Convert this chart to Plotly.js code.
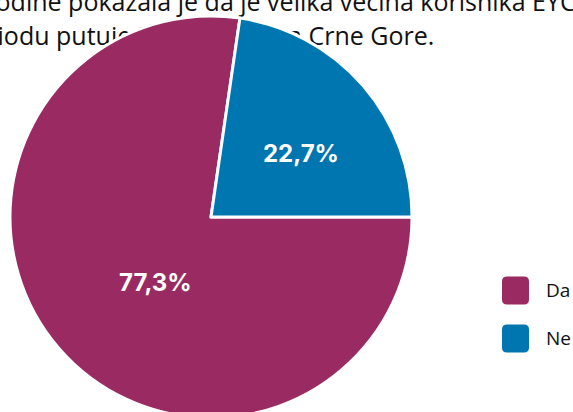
<!DOCTYPE html>
<html>
<head>
<meta charset="utf-8">
<script src="https://cdn.plot.ly/plotly-3.0.1.min.js"></script>
<style>
  html, body { margin: 0; padding: 0; overflow: hidden; background: #ffffff; }
  #chart { width: 573px; height: 420px; }
</style>
</head>
<body>
<div id="chart"></div>
<script>
// ---- data ----
const categories = ['Da', 'Ne'];
const shares = [77.3, 22.7];
const sliceColors = ['#9a2b62', '#0076b0'];
const titleLines = [
  'godine pokazala je da je velika većina korisnika EYCA kartice',
  'periodu putuje i izvan granica Crne Gore.'
];

// ---- layout helpers ----
const W = 573, H = 420, ML = 10, MT = 16, PW = 402, PH = 402;
const px2x = p => (p - ML) / PW;
const px2y = p => 1 - (p - MT) / PH;

const pie = {
  type: 'pie',
  labels: categories,
  values: shares,
  sort: false,
  direction: 'clockwise',
  rotation: 90,
  marker: { colors: sliceColors, line: { color: '#ffffff', width: 3 } },
  textinfo: 'none',
  hoverinfo: 'none',
  showlegend: false,
  domain: { x: [0, 1], y: [0, 1] }
};

const shapes = [];
const annotations = [];

// title lines, drawn below the pie
const titleStarts = [-18, -42];
const titleBase = [20, 54];
titleLines.forEach((t, i) => {
  shapes.push({
    type: 'line', layer: 'below', xref: 'paper', yref: 'paper',
    x0: px2x(titleStarts[i]), x1: px2x(titleStarts[i] + 50),
    y0: px2y(titleBase[i]), y1: px2y(titleBase[i]),
    line: { width: 0 },
    label: {
      text: t, textposition: 'start', textangle: 0,
      xanchor: 'left', yanchor: 'bottom', padding: 0,
      font: { family: 'Open Sans, Noto Sans, sans-serif', size: 25, color: '#111111' }
    }
  });
});

// value labels inside slices
const valueLabelPx = [[155, 282], [301, 153]];
shares.forEach((v, i) => {
  annotations.push({
    xref: 'paper', yref: 'paper',
    x: px2x(valueLabelPx[i][0]), y: px2y(valueLabelPx[i][1]),
    xanchor: 'center', yanchor: 'middle', showarrow: false,
    text: v.toFixed(1).replace('.', ',') + '%',
    font: { family: 'Inter, Lato, sans-serif', size: 24, color: '#ffffff', weight: 700 }
  });
});

// custom legend with rounded markers
const rr = 'M -8.5,-14 L 8.5,-14 Q 13.5,-14 13.5,-9 L 13.5,9 Q 13.5,14 8.5,14 L -8.5,14 Q -13.5,14 -13.5,9 L -13.5,-9 Q -13.5,-14 -8.5,-14 Z';
categories.forEach((c, i) => {
  const cy = 290.5 + i * 48;
  shapes.push({
    type: 'path', xref: 'paper', yref: 'paper',
    xsizemode: 'pixel', ysizemode: 'pixel',
    xanchor: px2x(515.5), yanchor: px2y(cy),
    path: rr, fillcolor: sliceColors[i], line: { width: 0 }
  });
  annotations.push({
    xref: 'paper', yref: 'paper', x: px2x(544), y: px2y(cy - 1),
    xanchor: 'left', yanchor: 'middle', showarrow: false,
    text: c, font: { family: 'Open Sans, Noto Sans, sans-serif', size: 19, color: '#111111' }
  });
});

const layout = {
  width: W, height: H,
  margin: { l: ML, r: W - ML - PW, t: MT, b: H - MT - PH, pad: 0 },
  paper_bgcolor: '#ffffff',
  plot_bgcolor: '#ffffff',
  separators: ',.',
  showlegend: false,
  shapes: shapes,
  annotations: annotations
};

Plotly.newPlot('chart', [pie], layout, { displayModeBar: false, staticPlot: true });
</script>
</body>
</html>
